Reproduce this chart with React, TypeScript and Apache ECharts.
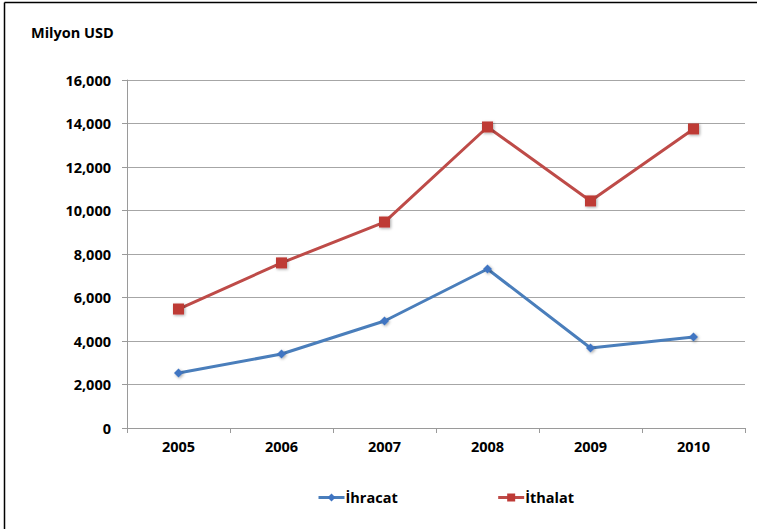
import React, { useEffect, useRef } from "react";
import * as echarts from "echarts";

const years = ["2005", "2006", "2007", "2008", "2009", "2010"];
const ihracat = [2530, 3400, 4920, 7310, 3680, 4180];
const ithalat = [5470, 7590, 9470, 13840, 10440, 13750];
const yTitle = "Milyon USD";
const seriesNames = ["İhracat", "İthalat"];

const FONT = "'Open Sans', Lato, sans-serif";
const FS = 14.5;

export default function App() {
  const ref = useRef<HTMLDivElement>(null);
  useEffect(() => {
    if (!ref.current) return;
    const chart = echarts.init(ref.current, null, { renderer: "svg" });
    const shadow = {
      shadowColor: "rgba(0,0,0,0.35)",
      shadowBlur: 3,
      shadowOffsetX: 1,
      shadowOffsetY: 1,
    };
    chart.setOption({
      animation: false,
      backgroundColor: "#ffffff",
      textStyle: { fontFamily: FONT },
      grid: { left: 127, right: 12, top: 80, bottom: 101 },
      graphic: [
        {
          type: "line",
          shape: { x1: 4.5, y1: 2.5, x2: 757, y2: 2.5 },
          style: { stroke: "#000", lineWidth: 1.5 },
        },
        {
          type: "line",
          shape: { x1: 4.5, y1: 2.5, x2: 4.5, y2: 529 },
          style: { stroke: "#000", lineWidth: 1.5 },
        },
        {
          type: "text",
          left: 31,
          top: 25,
          style: {
            text: yTitle,
            font: `bold ${FS}px ${FONT}`,
            fill: "#000",
          },
        },
      ],
      legend: {
        top: 485,
        left: 312,
        itemGap: 99,
        itemWidth: 26,
        itemHeight: 10,
        lineStyle: { width: 3 },
        textStyle: { fontFamily: FONT, fontWeight: "bold", fontSize: FS, color: "#000", padding: [0, 0, 0, -4] },
        data: seriesNames,
      },
      xAxis: {
        type: "category",
        data: years,
        boundaryGap: true,
        axisLine: { lineStyle: { color: "#9a9a9a", width: 1 } },
        axisTick: { show: true, length: 5, lineStyle: { color: "#9a9a9a" } },
        axisLabel: {
          margin: 11,
          fontFamily: FONT,
          fontWeight: "bold",
          fontSize: FS,
          color: "#000",
        },
      },
      yAxis: {
        type: "value",
        min: 0,
        max: 16000,
        interval: 2000,
        axisLine: { show: true, lineStyle: { color: "#9a9a9a", width: 1 } },
        axisTick: { show: true, length: 5, lineStyle: { color: "#9a9a9a" } },
        splitLine: { lineStyle: { color: "#a6a6a6", width: 1 } },
        axisLabel: {
          margin: 16,
          fontFamily: FONT,
          fontWeight: "bold",
          fontSize: FS,
          color: "#000",
          formatter: (v: number) => v.toLocaleString("en-US"),
        },
      },
      series: [
        {
          name: seriesNames[0],
          type: "line",
          data: ihracat,
          symbol: "diamond",
          symbolSize: 9,
          lineStyle: { color: "#4a7ebb", width: 3 },
          itemStyle: { color: "#3f74c2", ...shadow },
        },
        {
          name: seriesNames[1],
          type: "line",
          data: ithalat,
          symbol: "rect",
          symbolSize: 11,
          lineStyle: { color: "#be4b48", width: 3 },
          itemStyle: { color: "#be3a36", ...shadow },
        },
      ],
    });
    return () => chart.dispose();
  }, []);
  return (
    <div
      ref={ref}
      style={{ position: "fixed", left: 0, top: 0, width: 757, height: 529 }}
    />
  );
}
